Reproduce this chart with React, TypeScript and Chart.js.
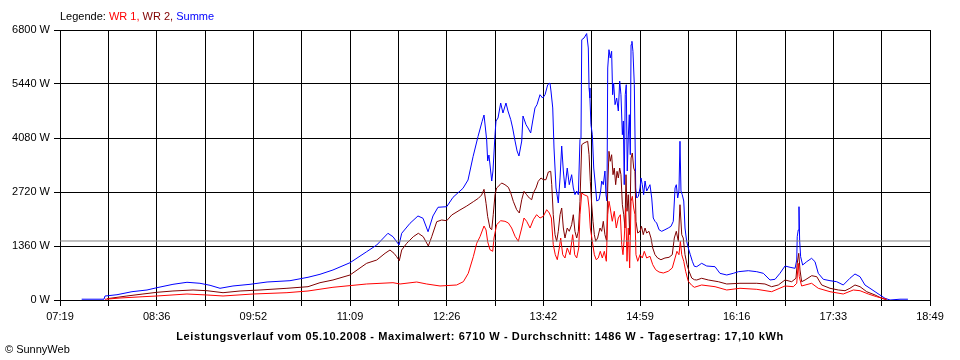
import { useEffect, useRef } from "react";
import { Chart, registerables } from "chart.js";

Chart.register(...registerables);

// Time axis (clock minutes): 07:19 .. 18:49
const startMinute = 439;
const endMinute = 1129;
const xTickLabels = ["07:19", "08:36", "09:52", "11:09", "12:26", "13:42", "14:59", "16:16", "17:33", "18:49"];
const yTickValues = [0, 1360, 2720, 4080, 5440, 6800];
const averageWatts = 1486;

const legendPrefix = "Legende: ";
const seriesNames = ["WR 1", "WR 2", "Summe"];
const footerTitle = "Leistungsverlauf vom 05.10.2008 - Maximalwert: 6710 W - Durchschnitt: 1486 W - Tagesertrag: 17,10 kWh";
const copyright = "\u00A9 SunnyWeb";

// [clock minute, watts]
const sumData: [number, number][] = [
  [456.2, 20], [473.9, 20], [474.7, 100], [484.2, 133], [496.1, 209], [508, 252], [515.9, 310], [528.6, 395], [539.7, 446], [550, 421], [558, 370], [565.9, 295], [576.2, 353], [589.7, 395], [603.2, 453], [621.4, 486], [635.7, 572], [645.2, 647], [655.5, 756], [669, 939], [682.2, 1216], [690.2, 1385], [699.1, 1680], [703.1, 1594], [707.9, 1385], [710, 1680], [716.6, 1932], [722.9, 2116], [726.9, 2058], [730.9, 1720], [734.8, 2116], [738.8, 2335], [745.7, 2350], [750.7, 2586], [758.6, 2813], [762.6, 3022], [766.6, 3609], [770.5, 4113], [773.7, 4490], [775.3, 4659], [777.4, 4030], [778.2, 3501], [779.2, 3652], [781.4, 2997], [782.4, 3249], [784, 4163], [784.8, 4508], [786.4, 4584], [788.5, 4961], [790.3, 4710], [792.7, 4961], [794.3, 4760], [796.5, 4541], [798, 4332], [799.9, 4004], [801.5, 3753], [803, 3627], [805.2, 4004], [806.2, 4634], [808.6, 4415], [810.2, 4332], [812.3, 4206], [813.9, 4508], [815.7, 4836], [817.3, 4919], [819.7, 5170], [821.8, 5087], [823.7, 5170], [825.8, 5422], [827.6, 5465], [828.4, 5264], [829.8, 4836], [830.8, 3828], [832.4, 2821], [834.2, 2443], [835.6, 3073], [836.9, 3878], [838.2, 3249], [839.5, 2821], [841.3, 3324], [842.9, 2904], [844.8, 3156], [846.1, 2821], [847.4, 2652], [848.8, 2745], [850.1, 2652], [851.4, 4037], [852.2, 4080], [852.8, 6556], [854.6, 6598], [856.7, 6710], [858, 6347], [858.6, 5339], [859.3, 5087], [860.1, 4415], [861.2, 4163], [862.3, 3324], [863.3, 2997], [864.7, 2493], [866.5, 2526], [867.8, 2745], [868.6, 2997], [869.9, 2904], [871.2, 3249], [872, 2652], [872.8, 2493], [873.4, 5843], [874.4, 6304], [875.4, 6095], [876.5, 6264], [877.3, 5170], [878.1, 5465], [879.2, 4919], [880.5, 5087], [881.8, 4760], [882.9, 5515], [883.9, 5170], [885, 4163], [885.8, 4508], [886.5, 2904], [887.3, 5170], [888.1, 5422], [888.9, 3249], [889.7, 4080], [890.5, 4667], [891.3, 3659], [891.9, 6430], [892.6, 6515], [893.4, 6264], [894.5, 5422], [895, 5422], [895.6, 2821], [896.4, 2569], [897.7, 2612], [899, 2821], [899.8, 3073], [900.8, 2904], [901.9, 2652], [903, 2997], [904.3, 2745], [905.6, 2821], [906.9, 2904], [908.3, 2569], [909.5, 2065], [910.9, 1982], [912.2, 1939], [914.1, 1770], [916.2, 1730], [918.8, 1770], [921.4, 1813], [923.6, 1856], [925.4, 1982], [926.8, 2821], [927.8, 2904], [928.9, 2569], [929.9, 2745], [930.7, 3997], [931.5, 2745], [932.5, 2652], [933.7, 2493], [934.7, 1813], [936, 1478], [937.3, 1310], [938.9, 1141], [940.5, 975], [942.1, 849], [944, 839], [947.9, 924], [951.9, 856], [958.5, 839], [962.4, 672], [967.8, 630], [973, 672], [977, 713], [984.9, 738], [991.6, 713], [996.8, 672], [1002.1, 504], [1006.1, 521], [1010, 672], [1014, 856], [1018, 824], [1022, 798], [1023.3, 1007], [1023.7, 1594], [1024.5, 1763], [1025.1, 2350], [1025.6, 1511], [1026.4, 1091], [1028, 881], [1031.2, 965], [1035.1, 1050], [1037.8, 965], [1040.4, 672], [1044.4, 521], [1049.7, 486], [1055, 461], [1060.2, 378], [1065.5, 547], [1069.5, 655], [1073.5, 587], [1077.4, 378], [1081.4, 295], [1085.4, 209], [1089.3, 126], [1093.3, 43], [1097.3, 0], [1105.2, 20], [1111.5, 20],
];

const wr2Data: [number, number][] = [
  [476.3, 33], [492.1, 101], [504.8, 151], [515.9, 194], [528.6, 227], [544.5, 252], [555.6, 234], [568.3, 184], [581.8, 227], [597.6, 252], [619, 295], [635.7, 335], [645.2, 436], [655.5, 504], [669, 630], [682.2, 924], [690.2, 1007], [696.8, 1176], [700.7, 1259], [703.9, 1176], [706, 1091], [708.1, 990], [710, 1259], [714, 1428], [719.2, 1594], [723.2, 1680], [727.1, 1594], [731.1, 1360], [733.8, 1594], [737.8, 1972], [741.7, 2015], [745.7, 1997], [749.7, 2141], [756.2, 2267], [761.6, 2367], [766.8, 2476], [770.8, 2561], [773.4, 2644], [775.3, 2788], [776.9, 2435], [778.2, 2098], [780, 1813], [781.4, 1770], [782.6, 2148], [784, 2652], [785.3, 2821], [788, 2904], [789.3, 2947], [791.9, 2904], [794.6, 2838], [796.5, 2695], [798.5, 2486], [801.2, 2274], [803.3, 2191], [805.2, 2526], [807, 2738], [809.1, 2652], [811.2, 2569], [813.1, 2526], [814.4, 2695], [816.5, 2821], [818.3, 2989], [820.5, 3073], [822.3, 3030], [824.4, 3030], [826.3, 3224], [828.2, 3241], [829, 2904], [830.2, 2148], [831.6, 1645], [832.9, 1478], [834.2, 1730], [835.6, 2148], [836.9, 2317], [838.2, 1813], [839.5, 1561], [841.3, 1813], [842.9, 1730], [844.8, 1896], [846.1, 2148], [847.4, 1730], [848.8, 1561], [850.1, 1730], [851.4, 2486], [852.8, 3911], [854.6, 3954], [857.5, 3997], [858.6, 3659], [859.6, 2989], [860.7, 2400], [861.7, 1982], [862.8, 1645], [863.9, 1478], [865.4, 1561], [867.3, 1813], [868.6, 1730], [869.9, 1982], [871.2, 1645], [872.6, 1478], [873.4, 2821], [874.4, 3745], [875.4, 3493], [876.5, 3659], [877.6, 3156], [878.6, 3324], [879.7, 2904], [880.8, 3241], [881.8, 3073], [882.9, 3324], [883.9, 3156], [885, 2400], [886.1, 2148], [887.1, 1813], [887.9, 3156], [888.7, 2234], [889.7, 2652], [890.8, 1645], [891.9, 3576], [892.9, 3702], [894, 3324], [895, 3241], [895.8, 1982], [897.2, 1687], [899, 1730], [900.2, 1856], [901.6, 1645], [903, 1813], [904.3, 1687], [906.1, 1730], [907.7, 1561], [909.1, 1310], [910.9, 1141], [913, 1058], [915.6, 1015], [918.8, 1058], [922, 1075], [924.6, 1141], [926.2, 1561], [927.8, 1730], [929.4, 1478], [930.7, 2400], [932.1, 1645], [933.3, 1561], [934.7, 1141], [936.3, 889], [937.9, 723], [940, 554], [942.1, 511], [944, 504], [947.9, 547], [953.2, 504], [961.1, 461], [967.8, 403], [978.3, 421], [991.6, 421], [998.1, 403], [1003.4, 335], [1008.7, 378], [1014, 504], [1019.3, 461], [1022.7, 547], [1023.7, 924], [1024.9, 1176], [1025.9, 756], [1027.2, 461], [1029.9, 504], [1035.2, 612], [1039.2, 587], [1043.1, 378], [1049.7, 295], [1056.3, 252], [1061.6, 234], [1065.5, 295], [1069.5, 378], [1073.5, 335], [1078.8, 209], [1085.4, 126], [1090.7, 43], [1094.7, 0],
];

const wr1Data: [number, number][] = [
  [474.7, 18], [486.6, 50], [504.8, 83], [515.9, 101], [539.7, 151], [555.6, 126], [568.3, 101], [592.1, 151], [619, 184], [635.7, 227], [655.5, 320], [682.2, 403], [703.1, 436], [708.7, 403], [721.9, 453], [729.8, 403], [740.4, 353], [753.6, 378], [758.9, 461], [762.8, 672], [766.8, 1091], [769.5, 1428], [772.1, 1594], [775.3, 1864], [776.9, 1763], [778.2, 1468], [780, 1267], [782.2, 1226], [783.2, 1561], [785.3, 1896], [788.5, 1997], [791.9, 1982], [794.6, 1939], [797.2, 1813], [799.9, 1604], [802.5, 1478], [805.2, 1813], [807, 2065], [809.1, 1982], [811.8, 1813], [814.4, 2022], [817, 2148], [819.7, 2065], [822.3, 2108], [825, 2274], [827.1, 2191], [828.7, 2065], [830.2, 1393], [831.8, 1141], [833.4, 1015], [835, 1310], [836.1, 1561], [837.7, 1141], [839.5, 1058], [841.3, 1310], [843.5, 1141], [845.6, 1645], [847.2, 1141], [848.8, 1058], [850.4, 1310], [851.4, 2148], [852.8, 2695], [854.6, 2652], [857.5, 2612], [858.6, 2317], [859.6, 1813], [861.2, 1478], [862.8, 1141], [864.3, 1015], [865.9, 1058], [867.5, 1226], [869.1, 1058], [870.7, 1226], [872.3, 975], [873.4, 2148], [874.4, 2486], [875.4, 2317], [877, 1982], [878.6, 2234], [880.2, 1813], [881.8, 2065], [883.4, 2148], [884.5, 1393], [885.5, 1141], [886.5, 1561], [887.7, 2317], [888.7, 975], [889.7, 1813], [890.8, 806], [891.9, 2486], [892.9, 2612], [894, 2317], [895, 2148], [895.8, 1141], [897.2, 975], [899, 1141], [900.8, 1058], [902.4, 1226], [904.3, 1058], [906.9, 1101], [909.1, 889], [911.4, 763], [914.1, 705], [917.5, 680], [921.4, 723], [924.6, 806], [926.8, 1058], [928.3, 1226], [929.9, 1141], [931, 1478], [932.1, 1141], [933.7, 975], [935.2, 723], [937.3, 471], [940, 370], [942.1, 320], [947.9, 378], [958.5, 335], [967.8, 252], [978.3, 295], [991.6, 269], [1003.4, 209], [1014, 353], [1020.6, 335], [1023.3, 421], [1024.5, 924], [1025.3, 587], [1027.2, 353], [1035.1, 421], [1040.4, 295], [1049.7, 209], [1060.2, 151], [1068.2, 252], [1073.5, 234], [1080.1, 151], [1086.7, 83], [1094.7, 18],
];

const colors = { wr1: "#ff0000", wr2: "#800000", sum: "#0000ff", avg: "#808080" };

const toPoints = (arr: [number, number][]) => arr.map(([x, y]) => ({ x, y }));

export default function App() {
  const canvasRef = useRef<HTMLCanvasElement | null>(null);

  useEffect(() => {
    document.body.style.margin = "0";
    const canvas = canvasRef.current;
    if (!canvas) return;
    Chart.defaults.font.family = "'Liberation Sans', Arial, sans-serif";
    Chart.defaults.font.size = 11;
    Chart.defaults.color = "#000";

    const lineDs = (label: string, data: [number, number][], color: string) => ({
      label,
      data: toPoints(data),
      borderColor: color,
      backgroundColor: color,
      borderWidth: 1,
      pointRadius: 0,
      tension: 0,
      fill: false,
    });

    const chart = new Chart(canvas, {
      type: "line",
      data: {
        datasets: [
          lineDs("Durchschnitt", [[startMinute, averageWatts], [endMinute, averageWatts]], colors.avg),
          lineDs(seriesNames[0], wr1Data, colors.wr1),
          lineDs(seriesNames[1], wr2Data, colors.wr2),
          lineDs(seriesNames[2], sumData, colors.sum),
        ],
      },
      options: {
        animation: false,
        responsive: false,
        maintainAspectRatio: false,
        layout: { padding: { top: 30, right: 30, left: 0, bottom: 0 } },
        plugins: { legend: { display: false }, tooltip: { enabled: false }, title: { display: false } },
        scales: {
          x: {
            type: "linear",
            min: startMinute,
            max: endMinute,
            afterBuildTicks: (scale: any) => {
              const n = (xTickLabels.length - 1) * 2;
              scale.ticks = Array.from({ length: n + 1 }, (_, i) => ({ value: startMinute + (i * (endMinute - startMinute)) / n }));
            },
            afterFit: (scale: any) => {
              scale.height = 60;
            },
            ticks: {
              autoSkip: false,
              maxRotation: 0,
              minRotation: 0,
              padding: 4,
              color: "#000",
              font: { size: 11 },
              callback: (_v: any, i: number) => (i % 2 === 0 ? xTickLabels[i / 2] : ""),
            },
            grid: { color: "#000", lineWidth: 1, tickLength: 6, drawTicks: true },
            border: { color: "#000", width: 1 },
          },
          y: {
            type: "linear",
            min: 0,
            max: yTickValues[yTickValues.length - 1],
            afterBuildTicks: (scale: any) => {
              scale.ticks = yTickValues.map((value) => ({ value }));
            },
            afterFit: (scale: any) => {
              scale.width = 60;
            },
            ticks: {
              padding: 4,
              color: "#000",
              font: { size: 11 },
              callback: (v: any) => `${v} W`,
            },
            grid: { color: "#000", lineWidth: 1, tickLength: 6, drawTicks: true },
            border: { color: "#000", width: 1 },
          },
        },
      },
    } as any);
    return () => chart.destroy();
  }, []);

  const font = "'Liberation Sans', Arial, sans-serif";
  return (
    <div style={{ position: "relative", width: 960, height: 360, background: "#fff", fontFamily: font }}>
      <canvas ref={canvasRef} width={960} height={360} style={{ display: "block", position: "absolute", left: 0, top: 0 }} />
      <div style={{ position: "absolute", left: 60, top: 10, fontSize: 11, lineHeight: "13px", whiteSpace: "nowrap" }}>
        <span style={{ color: "#000" }}>{legendPrefix}</span>
        <span style={{ color: colors.wr1 }}>{seriesNames[0]}, </span>
        <span style={{ color: colors.wr2 }}>{seriesNames[1]}, </span>
        <span style={{ color: colors.sum }}>{seriesNames[2]}</span>
      </div>
      <div style={{ position: "absolute", left: 0, width: 960, top: 330, fontSize: 11, lineHeight: "13px", fontWeight: "bold", letterSpacing: "0.6px", textAlign: "center", whiteSpace: "nowrap" }}>
        {footerTitle}
      </div>
      <div style={{ position: "absolute", left: 5, top: 343, fontSize: 11, lineHeight: "13px", whiteSpace: "nowrap" }}>{copyright}</div>
    </div>
  );
}
